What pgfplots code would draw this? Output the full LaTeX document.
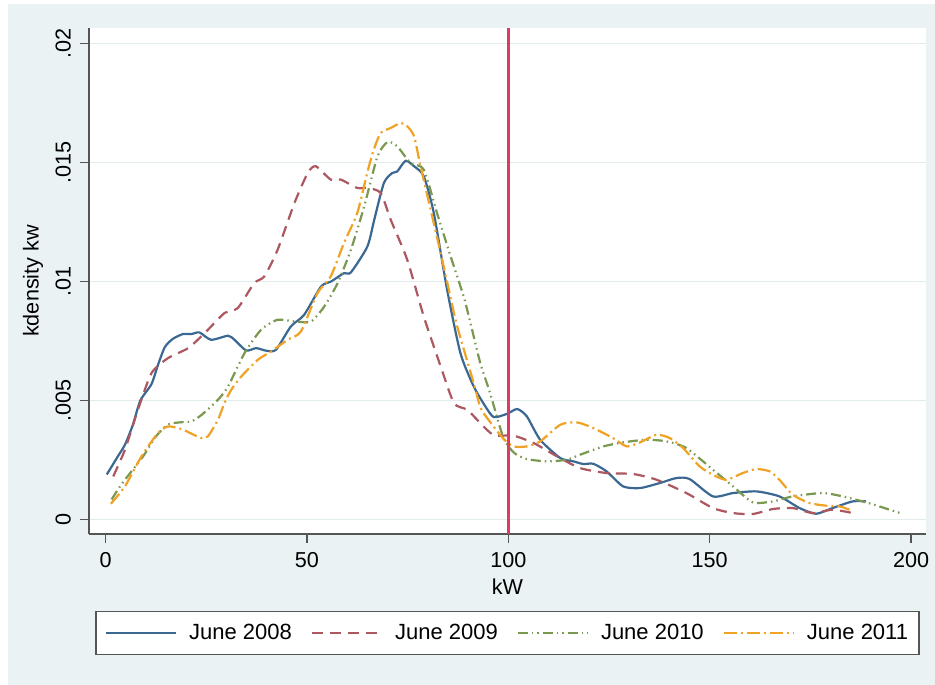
\documentclass[border=0pt]{standalone}
\usepackage{pgfplots}
\pgfplotsset{compat=1.18}
\usepackage{fontspec}
\setmainfont{Liberation Sans}
\definecolor{c08}{RGB}{58,104,146}
\definecolor{c09}{RGB}{173,88,96}
\definecolor{c10}{RGB}{122,152,80}
\definecolor{c11}{RGB}{240,162,36}
\definecolor{redl}{RGB}{222,58,102}
\definecolor{panel}{RGB}{234,242,243}
\definecolor{gridc}{RGB}{226,236,237}
\definecolor{axc}{RGB}{85,85,85}
\newcommand\bigf{\fontsize{21.6}{26}\selectfont}
\begin{document}
\begin{tikzpicture}
\fill[white] (0pt,0pt) rectangle (935pt,685pt);
\fill[panel] (8pt,0pt) rectangle (935pt,681pt);
\begin{axis}[
  at={(89pt,151pt)}, anchor=south west,
  scale only axis, width=837pt, height=506pt,
  xmin=-4.12, xmax=203.7, ymin=-0.6, ymax=20.66,
  axis lines*=left,
  axis line style={color=axc, line width=1.3pt},
  axis background/.style={fill=white},
  tick align=outside, major tick length=9pt,
  tick style={color=axc, line width=1.3pt},
  xtick={0,50,100,150,200},
  ytick={0,5,10,15,20},
  yticklabels={0,.005,.01,.015,.02},
  ymajorgrids, grid style={color=gridc, line width=1.3pt},
  /pgf/number format/assume math mode=true,
  every tick label/.append style={font=\bigf},
  xticklabel style={inner sep=0pt, anchor=north},
  xticklabel shift=9pt,
  yticklabel style={rotate=90, inner sep=0pt, anchor=south},
  yticklabel shift=9pt,
  xlabel={kW}, ylabel={kdensity kw},
  xlabel style={font=\bigf, at={(axis description cs:0.5,-0.1047)}, anchor=center},
  ylabel style={font=\bigf, at={(axis description cs:-0.0669,0.5)}, anchor=center, rotate=0},
  legend columns=4,
  legend style={at={(axis description cs:0.5,-0.152)}, anchor=north,
    draw=axc, line width=1.3pt, font=\fontsize{22}{26}\selectfont, inner xsep=9pt, inner ysep=11pt,
    /tikz/every odd column/.append style={column sep=10pt},
    /tikz/every even column/.append style={column sep=17pt}},
  legend image code/.code={\draw[#1] (0pt,0pt) -- (70pt,0pt);},
  every axis plot/.append style={line width=2.2pt, smooth, tension=0.4},
]
\addplot[c08] coordinates {(0.3,1.9) (3,2.65) (4.8,3.15) (6.8,4.0) (8.6,5.0) (11.4,5.7) (13,6.5) (14.7,7.25) (16.7,7.6) (19.2,7.8) (21.3,7.8) (23.3,7.87) (26.2,7.56) (30.4,7.73) (32,7.56) (34.9,7.11) (37.4,7.21) (39.9,7.1) (42.3,7.14) (46,8.12) (49.3,8.61) (53.5,9.8) (56,10.01) (59.2,10.36) (60.9,10.39) (65,11.48) (66.7,12.6) (69.1,14.15) (71.2,14.57) (72.4,14.63) (74.5,15.08) (76.6,14.85) (79,14.43) (81.5,12.88) (84.8,9.66) (88.1,7.0) (91.4,5.6) (94.3,4.76) (96.4,4.31) (99.7,4.45) (102.2,4.65) (104.6,4.34) (107.9,3.36) (112.9,2.59) (116.2,2.45) (118.6,2.34) (121.1,2.35) (124.4,2.03) (128.5,1.40) (132.7,1.33) (137.6,1.54) (141.7,1.75) (145,1.71) (150.8,0.98) (155.8,1.12) (161.6,1.19) (167.3,0.98) (172.3,0.49) (176.4,0.25) (180.5,0.49) (185.5,0.77) (188.8,0.77)};
\addlegendentry{June 2008}
\addplot[c09, dash pattern=on 11pt off 7pt] coordinates {(1.9,1.82) (4.8,2.94) (8,4.6) (11.4,6.16) (15.5,6.79) (20.5,7.21) (24.6,7.84) (29.5,8.68) (32.8,8.89) (36.9,9.94) (39.4,10.22) (42.7,11.34) (46.9,13.31) (50.2,14.57) (52.2,14.85) (55.9,14.29) (58.4,14.29) (62.5,13.94) (65,13.94) (68.3,13.73) (70.8,12.6) (74.9,10.92) (79,8.54) (83.2,6.44) (86.5,4.9) (89.8,4.62) (93.1,4.05) (96.4,3.55) (101.3,3.53) (106.3,3.22) (112.1,2.66) (117.8,2.17) (124.4,1.96) (131,1.92) (136.8,1.68) (144.2,1.12) (150.8,0.49) (155.8,0.28) (160.7,0.24) (165.7,0.45) (170.6,0.49) (175.6,0.28) (180.5,0.42) (185.5,0.28)};
\addlegendentry{June 2009}
\addplot[c10, dash pattern=on 10pt off 4pt on 1.5pt off 4pt on 1.5pt off 4pt] coordinates {(1.5,0.85) (4,1.5) (9.3,2.66) (12.5,3.5) (15.5,4.0) (19,4.1) (21.3,4.13) (23.8,4.4) (27.9,5.04) (30.4,5.6) (34.5,7.0) (38.6,7.98) (42.7,8.4) (46.9,8.33) (51,8.33) (54.3,8.96) (57.6,9.94) (60.9,11.34) (64.2,13.16) (67.5,15.26) (70,15.87) (72.4,15.69) (75.7,14.99) (79,14.71) (82.3,12.88) (85.6,11.1) (88.9,9.38) (90.6,8.26) (93,6.6) (95.5,5.3) (98.8,3.43) (101.5,2.8) (104.6,2.55) (109.6,2.45) (114.5,2.52) (117.8,2.73) (123.6,3.08) (128.5,3.25) (134.3,3.36) (139.3,3.29) (144.2,3.01) (150.8,2.10) (155.8,1.40) (160.7,0.73) (165.7,0.77) (170.6,0.98) (178,1.12) (183,0.98) (188.8,0.73) (192.1,0.56) (197.8,0.25)};
\addlegendentry{June 2010}
\addplot[c11, dash pattern=on 13pt off 4pt on 2pt off 4pt] coordinates {(1.3,0.67) (4.8,1.4) (8.9,2.66) (13,3.64) (15.5,3.92) (18.8,3.81) (21.5,3.6) (23.8,3.43) (25.4,3.5) (27.9,4.2) (29.5,4.9) (31.2,5.46) (33.7,6.02) (37.8,6.72) (41.1,7.07) (45.2,7.56) (48.5,7.91) (52.6,9.52) (55.9,10.22) (59.2,11.63) (62.5,12.89) (65,14.6) (66.5,15.5) (68.3,16.25) (70.8,16.46) (73.3,16.67) (74.9,16.53) (76.6,16.11) (78.2,14.85) (80.7,13.03) (83.2,11.2) (85.6,9.38) (87.3,8.12) (91.4,5.74) (93.1,4.7) (95.5,4.1) (98.8,3.4) (101.3,3.08) (104.6,3.08) (107.9,3.29) (112.9,3.99) (117,4.09) (121.1,3.85) (126,3.43) (129.4,3.08) (132.7,3.25) (136.8,3.57) (140.1,3.43) (143.4,3.01) (147.5,2.24) (150.8,1.89) (154.1,1.68) (158.2,1.96) (161.6,2.13) (164.9,2.03) (167.3,1.68) (170.6,1.05) (174.8,0.70) (178.9,0.59) (182.2,0.56) (184.7,0.42)};
\addlegendentry{June 2011}
\addplot[redl, line width=2.6pt, sharp plot, forget plot] coordinates {(100,-0.6) (100,20.66)};
\end{axis}
\end{tikzpicture}
\end{document}
